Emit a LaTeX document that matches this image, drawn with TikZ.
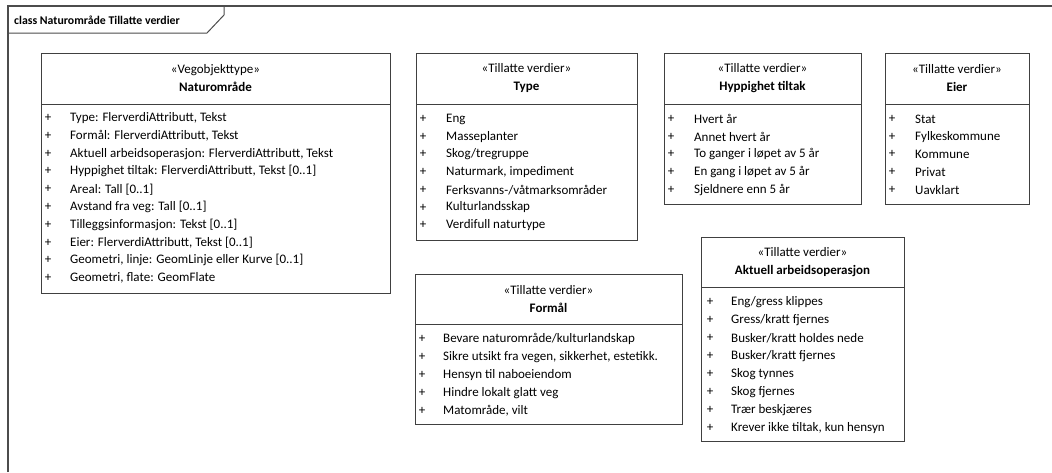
\documentclass[tikz,border=0pt]{standalone}
\usepackage{fontspec}
\setmainfont{Carlito}
\usetikzlibrary{positioning}

\tikzset{
  classhead/.style={draw=black!75, line width=1pt, outer sep=0pt, inner sep=0pt,
    align=center, anchor=north west, font=\fontsize{13}{18}\selectfont},
  classlist/.style={draw=black!75, line width=1pt, outer sep=0pt, inner sep=0pt},
  plus/.style={inner sep=0pt, font=\fontsize{13}{15}\selectfont},
  entry/.style={inner sep=0pt, anchor=west, font=\fontsize{13}{15}\selectfont},
}

\begin{document}
\begin{tikzpicture}[x=1pt, y=-1pt]
  \useasboundingbox (0,0) rectangle (1052,472);
  % frame
  \draw[black!70, line width=1.6pt] (8,472) -- (8,6) -- (1052,6);
  \draw[black!70, line width=1pt] (8,33) -- (207,33) -- (224,15) -- (224,6);
  \node[entry, font=\fontsize{11.8}{13}\selectfont\bfseries] (frame) at (14,20) {class Naturområde Tillatte verdier};

  % Naturomrade
  \node[classhead, minimum width=349, minimum height=51] (naturomrade) at (41,53) {«Vegobjekttype»\\\textbf{Naturområde}};
  \node[classlist, minimum width=349, minimum height=189, below=0pt of naturomrade] (naturomrade-list) {};
  \foreach \txt [count=\i] in {{Type: FlerverdiAttributt, Tekst}, {Formål: FlerverdiAttributt, Tekst},
      {Aktuell arbeidsoperasjon: FlerverdiAttributt, Tekst}, {Hyppighet tiltak: FlerverdiAttributt, Tekst [0..1]},
      {Areal: Tall [0..1]}, {Avstand fra veg: Tall [0..1]}, {Tilleggsinformasjon: Tekst [0..1]},
      {Eier: FlerverdiAttributt, Tekst [0..1]}, {Geometri, linje: GeomLinje eller Kurve [0..1]},
      {Geometri, flate: GeomFlate}}
    \path (naturomrade-list.north west) ++(7,{14+17.8*(\i-1)}) node[plus] (naturomrade-p\i) {+}
      ++(22,0) node[entry] (naturomrade-e\i) {\txt};

  % Type
  \node[classhead, minimum width=221, minimum height=51] (type) at (416,53) {«Tillatte verdier»\\\textbf{Type}};
  \node[classlist, minimum width=221, minimum height=136, below=0pt of type] (type-list) {};
  \foreach \txt [count=\i] in {Eng, Masseplanter, Skog/tregruppe, {Naturmark, impediment},
      Ferksvanns-/våtmarksområder, Kulturlandsskap, Verdifull naturtype}
    \path (type-list.north west) ++(7,{15+17.7*(\i-1)}) node[plus] (type-p\i) {+}
      ++(23,0) node[entry] (type-e\i) {\txt};

  % Hyppighet tiltak
  \node[classhead, minimum width=197, minimum height=51] (hyppighet) at (664,53) {«Tillatte verdier»\\\textbf{Hyppighet tiltak}};
  \node[classlist, minimum width=197, minimum height=100, below=0pt of hyppighet] (hyppighet-list) {};
  \foreach \txt [count=\i] in {Hvert år, Annet hvert år, To ganger i løpet av 5 år,
      En gang i løpet av 5 år, Sjeldnere enn 5 år}
    \path (hyppighet-list.north west) ++(7,{15+17.7*(\i-1)}) node[plus] (hyppighet-p\i) {+}
      ++(23,0) node[entry] (hyppighet-e\i) {\txt};

  % Eier
  \node[classhead, minimum width=144, minimum height=51] (eier) at (885,53) {«Tillatte verdier»\\\textbf{Eier}};
  \node[classlist, minimum width=144, minimum height=100, below=0pt of eier] (eier-list) {};
  \foreach \txt [count=\i] in {Stat, Fylkeskommune, Kommune, Privat, Uavklart}
    \path (eier-list.north west) ++(7,{15+17.7*(\i-1)}) node[plus] (eier-p\i) {+}
      ++(23,0) node[entry] (eier-e\i) {\txt};

  % Formal
  \node[classhead, minimum width=267, minimum height=50] (formal) at (415,274) {«Tillatte verdier»\\\textbf{Formål}};
  \node[classlist, minimum width=267, minimum height=100, below=0pt of formal] (formal-list) {};
  \foreach \txt [count=\i] in {Bevare naturområde/kulturlandskap, {Sikre utsikt fra vegen, sikkerhet, estetikk.},
      Hensyn til naboeiendom, Hindre lokalt glatt veg, {Matområde, vilt}}
    \path (formal-list.north west) ++(7,{15+17.9*(\i-1)}) node[plus] (formal-p\i) {+}
      ++(21,0) node[entry] (formal-e\i) {\txt};

  % Aktuell arbeidsoperasjon
  \node[classhead, minimum width=203, minimum height=50] (aktuell) at (701,237) {«Tillatte verdier»\\\textbf{Aktuell arbeidsoperasjon}};
  \node[classlist, minimum width=203, minimum height=154, below=0pt of aktuell] (aktuell-list) {};
  \foreach \txt [count=\i] in {Eng/gress klippes, Gress/kratt fjernes, Busker/kratt holdes nede,
      Busker/kratt fjernes, Skog tynnes, Skog fjernes, Trær beskjæres, {Krever ikke tiltak, kun hensyn}}
    \path (aktuell-list.north west) ++(9,{15+18*(\i-1)}) node[plus] (aktuell-p\i) {+}
      ++(21,0) node[entry] (aktuell-e\i) {\txt};
\end{tikzpicture}
\end{document}
